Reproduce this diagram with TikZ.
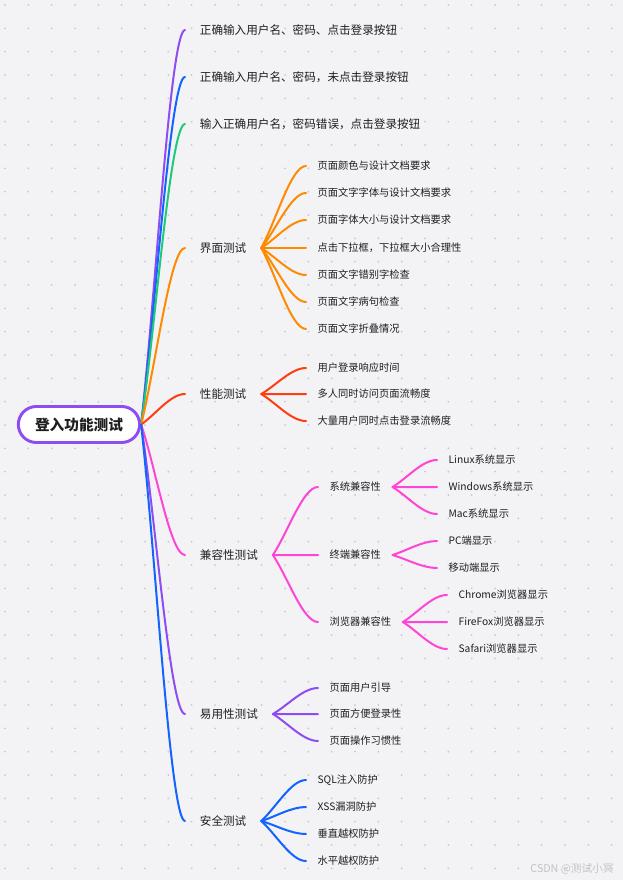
\documentclass[tikz,border=0pt]{standalone}
\usepackage{fontspec}
\setmainfont{Noto Sans CJK SC}
\usepackage{tikz}
\usetikzlibrary{calc,positioning}
\definecolor{ink}{HTML}{1F1F22}
\definecolor{canvas}{HTML}{F3F3F6}
\definecolor{dotc}{HTML}{C8C8CD}
\definecolor{violet}{HTML}{8F4CF2}
\definecolor{blue}{HTML}{1364FF}
\definecolor{green}{HTML}{1FC97A}
\definecolor{orange}{HTML}{FF8A00}
\definecolor{red}{HTML}{FF3D12}
\definecolor{magenta}{HTML}{FF45D6}
\definecolor{mark}{HTML}{C2C2C7}
\tikzset{
  root/.style={draw=violet,line width=2.2pt,fill=white,rounded corners=13.5pt,minimum width=91pt,minimum height=27pt,inner sep=0pt,font=\fontsize{11}{13}\selectfont\bfseries,text=ink},
  topic/.style={anchor=west,inner xsep=11pt,inner ysep=2pt,font=\fontsize{8.7}{11}\selectfont,text=ink},
  leaf/.style={anchor=west,inner xsep=8.5pt,inner ysep=2pt,font=\fontsize{7.7}{10}\selectfont,text=ink},
  branch/.style={draw=#1,line width=1.5pt,line cap=round,
    to path={let \p1=(\tikztostart),\p2=(\tikztotarget) in .. controls ($(\p1)!1/3!(\p2)$) and ({(\x1+2*\x2)/3},\y2) .. (\p2)}}
}
\begin{document}
\begin{tikzpicture}[x=0.75pt,y=-0.75pt]
    \useasboundingbox (0,0) rectangle (623,880);
    \fill[canvas] (0,0) rectangle (623,880);
    \foreach \i in {0,...,26}
      \foreach \j in {0,...,37}
        \fill[dotc] ({5+\i*70/3},{5+\j*70/3}) circle (0.75pt);

    \node[root] (login) at (79,424.5) {登入功能测试};

    \node[topic] (right) at (185,30) {正确输入用户名、密码、点击登录按钮};
    \node[topic] (noclick) at (185,77) {正确输入用户名、密码，未点击登录按钮};
    \node[topic] (wrongpw) at (185,124) {输入正确用户名，密码错误，点击登录按钮};
    \node[topic] (ui) at (185,248) {界面测试};
    \node[topic] (perf) at (185,394) {性能测试};
    \node[topic] (compat) at (185,555) {兼容性测试};
    \node[topic] (usable) at (185,714) {易用性测试};
    \node[topic] (secure) at (185,821) {安全测试};

    \node[leaf] (ui1) at (306,166) {页面颜色与设计文档要求};
    \node[leaf] (ui2) at (306,193) {页面文字字体与设计文档要求};
    \node[leaf] (ui3) at (306,220) {页面字体大小与设计文档要求};
    \node[leaf] (ui4) at (306,248) {点击下拉框，下拉框大小合理性};
    \node[leaf] (ui5) at (306,275) {页面文字错别字检查};
    \node[leaf] (ui6) at (306,302) {页面文字病句检查};
    \node[leaf] (ui7) at (306,329) {页面文字折叠情况};

    \node[leaf] (perf1) at (306,368) {用户登录响应时间};
    \node[leaf] (perf2) at (306,394) {多人同时访问页面流畅度};
    \node[leaf] (perf3) at (306,421) {大量用户同时点击登录流畅度};

    \node[leaf] (system) at (318,487) {系统兼容性};
    \node[leaf] (terminal) at (318,555) {终端兼容性};
    \node[leaf] (browser) at (318,622) {浏览器兼容性};
    \node[leaf] (linux) at (437,460) {Linux系统显示};
    \node[leaf] (windows) at (437,487) {Windows系统显示};
    \node[leaf] (mac) at (437,514) {Mac系统显示};
    \node[leaf] (pc) at (437,541) {PC端显示};
    \node[leaf] (mobile) at (437,568) {移动端显示};
    \node[leaf] (chrome) at (447,595) {Chrome浏览器显示};
    \node[leaf] (firefox) at (447,622) {FireFox浏览器显示};
    \node[leaf] (safari) at (447,649) {Safari浏览器显示};

    \node[leaf] (use1) at (318,688) {页面用户引导};
    \node[leaf] (use2) at (318,714) {页面方便登录性};
    \node[leaf] (use3) at (318,741) {页面操作习惯性};

    \node[leaf] (sec1) at (306,780) {SQL注入防护};
    \node[leaf] (sec2) at (306,807) {XSS漏洞防护};
    \node[leaf] (sec3) at (306,834) {垂直越权防护};
    \node[leaf] (sec4) at (306,861) {水平越权防护};

    \node[font=\fontsize{8}{10}\selectfont,text=mark] (mark) at (572,869) {CSDN @测试小冥};

    \draw[branch=violet] (login.east) to (right.west);
    \draw[branch=blue] (login.east) to (noclick.west);
    \draw[branch=green] (login.east) to (wrongpw.west);
    \draw[branch=orange] (login.east) to (ui.west);
    \draw[branch=red] (login.east) to (perf.west);
    \draw[branch=magenta] (login.east) to (compat.west);
    \draw[branch=violet] (login.east) to (usable.west);
    \draw[branch=blue] (login.east) to (secure.west);

    \draw[branch=orange] (ui.east) to (ui1.west);
    \draw[branch=orange] (ui.east) to (ui2.west);
    \draw[branch=orange] (ui.east) to (ui3.west);
    \draw[branch=orange] (ui.east) to (ui4.west);
    \draw[branch=orange] (ui.east) to (ui5.west);
    \draw[branch=orange] (ui.east) to (ui6.west);
    \draw[branch=orange] (ui.east) to (ui7.west);

    \draw[branch=red] (perf.east) to (perf1.west);
    \draw[branch=red] (perf.east) to (perf2.west);
    \draw[branch=red] (perf.east) to (perf3.west);

    \draw[branch=magenta] (compat.east) to (system.west);
    \draw[branch=magenta] (compat.east) to (terminal.west);
    \draw[branch=magenta] (compat.east) to (browser.west);
    \draw[branch=magenta] (system.east) to (linux.west);
    \draw[branch=magenta] (system.east) to (windows.west);
    \draw[branch=magenta] (system.east) to (mac.west);
    \draw[branch=magenta] (terminal.east) to (pc.west);
    \draw[branch=magenta] (terminal.east) to (mobile.west);
    \draw[branch=magenta] (browser.east) to (chrome.west);
    \draw[branch=magenta] (browser.east) to (firefox.west);
    \draw[branch=magenta] (browser.east) to (safari.west);

    \draw[branch=violet] (usable.east) to (use1.west);
    \draw[branch=violet] (usable.east) to (use2.west);
    \draw[branch=violet] (usable.east) to (use3.west);

    \draw[branch=blue] (secure.east) to (sec1.west);
    \draw[branch=blue] (secure.east) to (sec2.west);
    \draw[branch=blue] (secure.east) to (sec3.west);
    \draw[branch=blue] (secure.east) to (sec4.west);
  \end{tikzpicture}
\end{document}
